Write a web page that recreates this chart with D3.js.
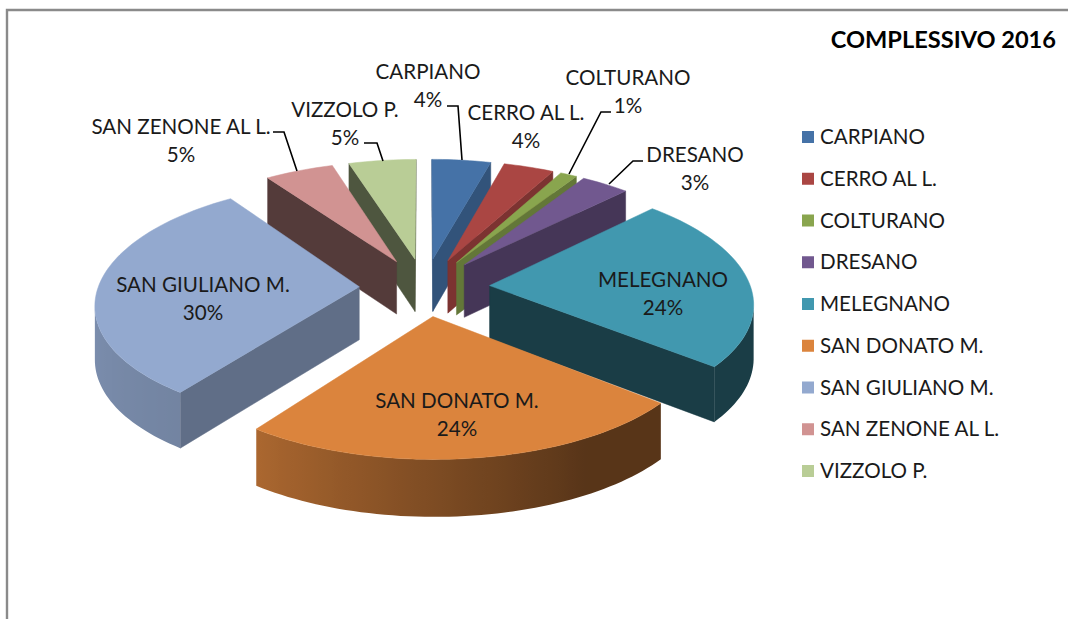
<!DOCTYPE html>
<html><head><meta charset="utf-8">
<script src="https://cdn.jsdelivr.net/npm/d3@7/dist/d3.min.js"></script>
<style>html,body{margin:0;padding:0;background:#fff}svg{display:block}text{font-family:Lato,"Open Sans",sans-serif;fill:#1a1a1a}</style>
</head><body><div id="chart"></div>
<script>
const categories = ["CARPIANO","CERRO AL L.","COLTURANO","DRESANO","MELEGNANO","SAN DONATO M.","SAN GIULIANO M.","SAN ZENONE AL L.","VIZZOLO P."];
const values = [4.2,3.6,1.2,3.45,23.55,24,30.3,4.9,4.8];
const percentLabels = ["4%","4%","1%","3%","24%","24%","30%","5%","5%"];
const topColors = ["#4572a7","#aa4643","#89a54e","#71588f","#4198af","#db843d","#93a9cf","#d19392","#b9cd96"];
const wallFactors = [0.73,0.73,0.72,0.61,0.4,0.4,0.65,0.4,0.42];
const title = "COMPLESSIVO 2016";

// layout of the labels: label centre and leader elbow/end (not data)
const labelPos = [[428,72],[526,113],[628,78],[695,155],[663,280],[457,401],[203,285],[181,127],[345,110]];
const leaders = [
  [[447,106],[458,106],[462,160]],
  null,
  [[611,112],[601,112],[569,174]],
  [[643,161],[633,161],[609,184]],
  null,null,null,
  [[273,132],[284,132],[297,171]],
  [[364,143],[377,143],[383,161]]
];

const W=1068,H=619;
const cx=424.5, cy=287, a=261, b=118, px=0.13, py=0.12, explodeX=0.25, explodeY=0.245, depth=53;
const sx=d3.scaleLinear().domain([-1,1]).range([-a,a]);
const sy=d3.scaleLinear().domain([-1,1]).range([-b,b]);
const project=(X,Y,z=0)=>[cx+sx(X)/(1-px*Y), cy+sy(Y)/(1-py*Y)+z*depth/Math.sqrt(1-py*Y)];
const shade=d3.scaleLinear().domain([150,216,290]).range([0.4,0.78,0.88]).clamp(true);
const scaleCol=(c,f)=>{const r=d3.rgb(c);return d3.rgb(r.r*f,r.g*f,r.b*f).formatHex();};

const svg=d3.select("#chart").append("svg").attr("width",W).attr("height",H);
const defs=svg.append("defs");
svg.append("path").attr("d",d3.line()([[7,H],[7,10],[W,10]])).attr("fill","none").attr("stroke","#8a8a8a").attr("stroke-width",2.4);

const arcs=d3.pie().sort(null).value(d=>d)(values).map((d,i)=>{
  const mid=(d.startAngle+d.endAngle)/2;
  return {i,start:d.startAngle,end:d.endAngle,mid,ox:explodeX*Math.sin(mid),oy:-explodeY*Math.cos(mid)};
});
const line=d3.line();
const order=arcs.slice().sort((u,v)=>u.oy-v.oy);
const camY=1/py;
order.forEach(s=>{
  const g=svg.append("g");
  const P=(t,r=1)=>[s.ox+r*Math.sin(t), s.oy-r*Math.cos(t)];
  const pj=(q,z)=>project(q[0],q[1],z);
  const top=topColors[s.i], wall=scaleCol(top,wallFactors[s.i]);
  const radial=(t,sign)=>{
    const nx=sign*Math.cos(t), ny=sign*Math.sin(t);
    const A=[s.ox,s.oy],B=P(t);
    const mx=(A[0]+B[0])/2,my=(A[1]+B[1])/2;
    if(nx*(-mx)+ny*(camY-my)<=0) return;
    g.append("path").attr("d",line([pj(A,0),pj(B,0),pj(B,1),pj(A,1)])+"Z").attr("fill",wall).attr("stroke",wall).attr("stroke-width",0.5);
  };
  radial(s.start,-1); radial(s.end,1);
  const step=Math.PI/120;
  const n=Math.max(2,Math.ceil((s.end-s.start)/step));
  const ts=d3.range(n+1).map(k=>s.start+(s.end-s.start)*k/n);
  const visTs=ts.filter(t=>{const q=P(t);return Math.sin(t)*(-q[0])-Math.cos(t)*(camY-q[1])>0;});
  if(visTs.length>1){
    const fx=t=>pj(P(t),0)[0];
    const xs=visTs.map(fx), x0=d3.min(xs), x1=d3.max(xs);
    const id="wall"+s.i;
    const grad=defs.append("linearGradient").attr("id",id).attr("gradientUnits","userSpaceOnUse")
      .attr("x1",x0).attr("x2",x1).attr("y1",0).attr("y2",0);
    const off=d3.scaleLinear().domain([x0,x1]).range([0,1]);
    visTs.map(t=>({o:off(fx(t)),c:scaleCol(top,shade(t*180/Math.PI))})).sort((u,v)=>u.o-v.o)
      .forEach(st=>grad.append("stop").attr("offset",st.o).attr("stop-color",st.c));
    const upper=visTs.map(t=>pj(P(t),0)), lower=visTs.map(t=>pj(P(t),1)).reverse();
    g.append("path").attr("d",line(upper.concat(lower))+"Z").attr("fill",`url(#${id})`);
  }
  const pts=[pj([s.ox,s.oy],0)].concat(ts.map(t=>pj(P(t),0)));
  g.append("path").attr("d",line(pts)+"Z").attr("fill",top).attr("stroke",top).attr("stroke-width",0.5);
});

// leaders
leaders.forEach(l=>{ if(l) svg.append("path").attr("d",line(l)).attr("fill","none").attr("stroke","#000").attr("stroke-width",1.6); });

// data labels
categories.forEach((c,i)=>{
  const [x,y]=labelPos[i];
  svg.append("text").attr("x",x).attr("y",y+7).attr("text-anchor","middle").attr("font-size",20.6).text(c);
  svg.append("text").attr("x",x).attr("y",y+35).attr("text-anchor","middle").attr("font-size",20.6).text(percentLabels[i]);
});

// title
svg.append("text").attr("x",1056).attr("y",48).attr("text-anchor","end").attr("font-size",23.6).attr("font-weight",700).style("fill","#000").text(title);

// legend
const legendY=d3.scalePoint().domain(categories).range([137,471]);
categories.forEach((c,i)=>{
  svg.append("rect").attr("x",802).attr("y",legendY(c)-6).attr("width",12).attr("height",12).attr("fill",topColors[i]);
  svg.append("text").attr("x",820).attr("y",legendY(c)+7).attr("font-size",20.6).text(c);
});
</script></body></html>
